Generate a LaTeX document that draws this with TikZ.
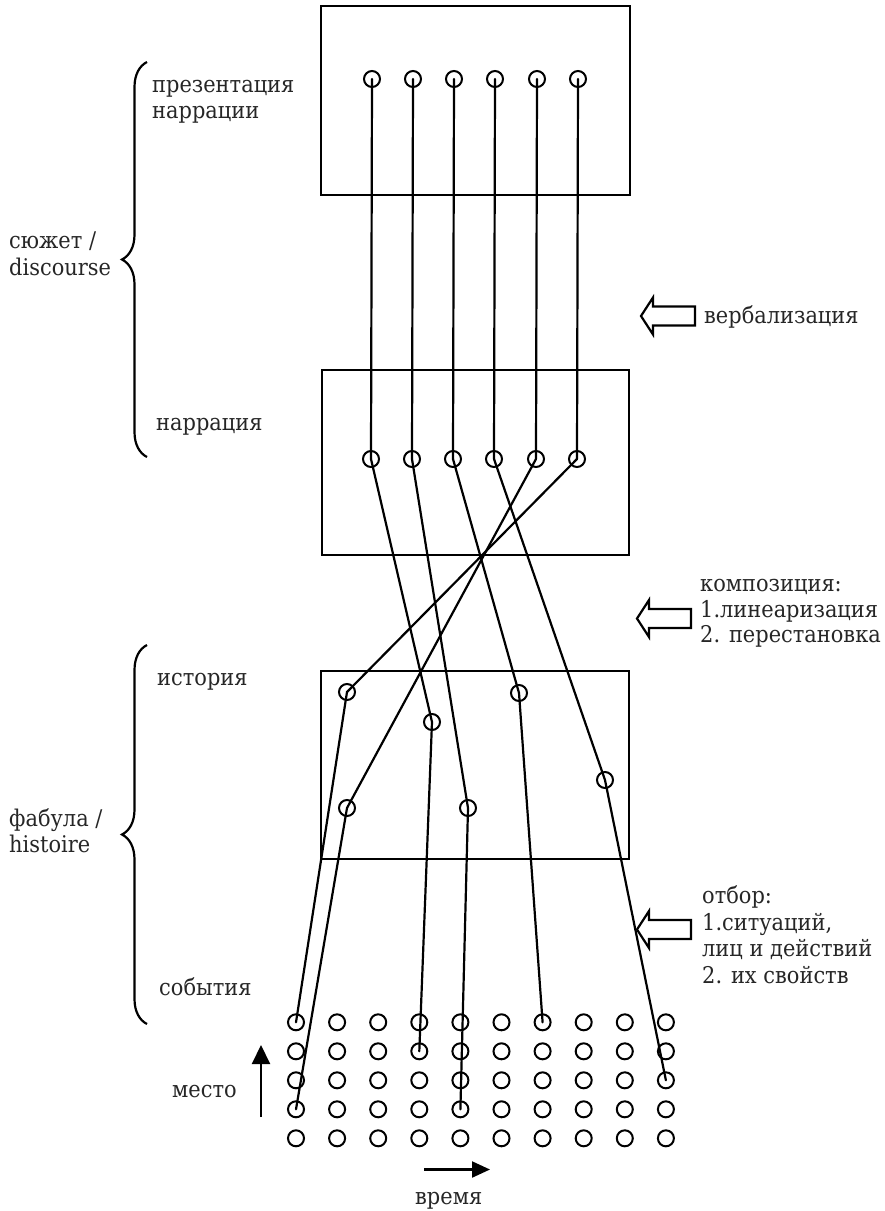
\documentclass[tikz,border=0pt]{standalone}
\usepackage{fontspec}
\setmainfont{DejaVu Serif}[FakeStretch=0.91]
\usetikzlibrary{arrows.meta,decorations.pathreplacing}

\tikzset{
  stroke/.style={line width=2.2pt, black},
  dot/.style={circle, draw, line width=2pt, minimum size=16pt, inner sep=0pt},
  frame/.style={stroke},
  link/.style={stroke, line cap=round},
  lbl/.style={anchor=base west, inner sep=0pt, font=\fontsize{23}{26.5}\selectfont, text=black!85},
  curly/.style={line width=2.2pt, decorate, decoration={brace, amplitude=25pt}},
  axis/.style={line width=2.2pt, -{Triangle[length=19pt, width=18pt]}},
  pics/hollowarrow/.style={code={
    \draw[line width=2.2pt, line join=miter]
      (0,0) -- (12,-18.5) -- (12,-9.5) -- (54,-9.5) -- (54,9.5)
      -- (12,9.5) -- (12,18.5) -- cycle;
  }}
}

\begin{document}
\begin{tikzpicture}[x=1pt, y=-1pt]
\useasboundingbox (0,0) rectangle (885,1211);

% the three levels of the scheme
\draw[frame] (321,6) rectangle (630,195);
\draw[frame] (322,370) rectangle (629,555);
\draw[frame] (321,671) rectangle (629,859);

% presentation level
\foreach \i/\x in {1/372,2/413,3/454,4/495,5/537,6/578}
  \node[dot] (t\i) at (\x,79) {};
% narration level
\foreach \i/\x in {1/371,2/412,3/453,4/494,5/536,6/577}
  \node[dot] (m\i) at (\x,459) {};
% story level
\node[dot] (hA) at (347,692) {};
\node[dot] (hB) at (432,722) {};
\node[dot] (hC) at (519,693) {};
\node[dot] (hD) at (605,780) {};
\node[dot] (hE) at (347,808) {};
\node[dot] (hF) at (468,808) {};
% events: place (rows) x time (columns)
\foreach \c in {1,...,10}
  \foreach \r in {1,...,5}
    \node[dot] (g\c-\r) at ({296+41.1*(\c-1)},{1022.3+29*(\r-1)}) {};

% verbalization: straight threads
\foreach \i in {1,...,6}
  \draw[link] (t\i.center) -- (m\i.center);

% composition and selection threads
\draw[link] (m1.center) -- (hB.center) -- (g4-2.center);
\draw[link] (m2.center) -- (hF.center) -- (g5-4.center);
\draw[link] (m3.center) -- (hC.center) -- (g7-1.center);
\draw[link] (m4.center) -- (hD.center) -- (g10-3.center);
\draw[link] (m5.center) -- (hE.center) -- (g1-4.center);
\draw[link] (m6.center) -- (hA.center) -- (g1-1.center);

% braces
\draw[curly] (147,457) -- (147,62);
\draw[curly] (147,1024) -- (147,645);

% level labels
\node[lbl] (l1a) at (152,92) {презентация};
\node[lbl] (l1b) at (152,118) {наррации};
\node[lbl] (l2) at (156,430) {наррация};
\node[lbl] (l3) at (157,685) {история};
\node[lbl] (l4) at (159,995) {события};
\node[lbl] (s1a) at (9,248) {сюжет /};
\node[lbl] (s1b) at (9,275) {discourse};
\node[lbl] (s2a) at (9,826) {фабула /};
\node[lbl] (s2b) at (9,852) {histoire};

% operations between levels
\pic at (641,316) {hollowarrow};
\node[lbl] (o1) at (704,323) {вербализация};

\pic at (637,618.5) {hollowarrow};
\node[lbl] (o2a) at (700,591.5) {композиция:};
\node[lbl] (o2b) at (700,617) {1.линеаризация};
\node[lbl] (o2c) at (700,642) {2. перестановка};

\pic at (637,929.5) {hollowarrow};
\node[lbl] (o3a) at (702,903.5) {отбор:};
\node[lbl] (o3b) at (702,930) {1.ситуаций,};
\node[lbl] (o3c) at (702,956.5) {лиц и действий};
\node[lbl] (o3d) at (702,983) {2. их свойств};

% axes of the event grid
\coordinate (pfrom) at (261,1117);
\coordinate (pto) at (261,1045);
\draw[axis] (pfrom) -- (pto);
\node[lbl] (place) at (172,1097) {место};

\coordinate (tfrom) at (424,1169.5);
\coordinate (tto) at (490,1169.5);
\draw[axis, -{Triangle[length=18pt, width=16pt]}] (tfrom) -- (tto);
\node[lbl] (time) at (415,1204) {время};
\end{tikzpicture}
\end{document}
